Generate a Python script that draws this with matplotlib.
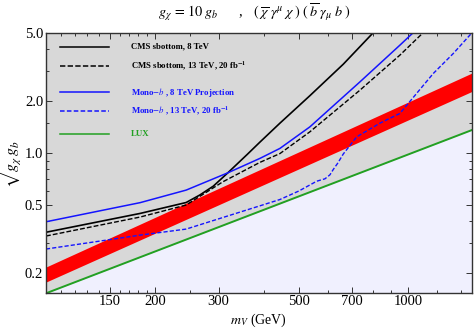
import matplotlib
matplotlib.use("Agg")
import matplotlib.pyplot as plt
from matplotlib.ticker import FixedLocator, NullFormatter, FixedFormatter

plt.rcParams["font.family"] = ["Liberation Serif", "DejaVu Serif"]
plt.rcParams["mathtext.fontset"] = "stix"

# --- donnees ---
cms8_m = [100, 182, 244, 266, 290, 318, 360, 390, 443, 536, 663, 802]
cms8_g = [0.345, 0.444, 0.514, 0.568, 0.64, 0.765, 0.98, 1.154, 1.488, 2.15, 3.28, 5.0]

cms13_m = [100, 182, 244, 308, 390, 443, 536, 737, 950, 1102]
cms13_g = [0.328, 0.423, 0.497, 0.678, 0.88, 0.99, 1.325, 2.315, 3.70, 5.0]

monob8_m = [100, 182, 244, 318, 390, 443, 536, 737, 950, 1034]
monob8_g = [0.397, 0.513, 0.607, 0.765, 0.928, 1.061, 1.416, 2.587, 4.228, 5.0]

monob13_m = [100, 182, 244, 330, 443, 500, 560, 590, 609, 622, 640, 663, 722, 837, 950, 1175, 1334, 1500]
monob13_g = [0.2755, 0.332, 0.360, 0.44, 0.535, 0.60, 0.684, 0.706, 0.745, 0.80, 0.871, 0.985, 1.239,
             1.488, 1.694, 2.894, 3.78, 4.97]

lux_m = [100, 1500]
lux_g = [0.1523, 1.355]

band_m = [100, 1500]
band_lo = [0.177, 2.272]
band_hi = [0.2165, 2.907]

xmin, xmax = 100, 1500
ymin, ymax = 0.1535, 5.0

BLUE = "#1414ff"
GREEN = "#22a022"

fig = plt.figure(figsize=(4.74, 3.28), dpi=100)
ax = fig.add_axes([0.097, 0.1076, 0.898, 0.7927])
ax.set_facecolor("#f0f0fe")
ax.set_xscale("log")
ax.set_yscale("log")

ax.fill_between(lux_m, lux_g, ymax, color="#d8d8d8", lw=0, zorder=1)
ax.fill_between(band_m, band_lo, band_hi, color="#ff0000", lw=0, zorder=3)

ax.plot(cms8_m, cms8_g, color="black", lw=1.2, zorder=4)
ax.plot(cms13_m, cms13_g, color="black", lw=1.0, ls=(0, (3.5, 1.5)), zorder=4)
ax.plot(monob8_m, monob8_g, color=BLUE, lw=1.1, zorder=4)
ax.plot(monob13_m, monob13_g, color=BLUE, lw=1.0, ls=(0, (3, 1.5)), zorder=4)
ax.plot(lux_m, lux_g, color=GREEN, lw=1.4, zorder=4)

ax.set_xlim(xmin, xmax)
ax.set_ylim(ymin, ymax)

xt = [150, 200, 300, 500, 700, 1000]
ax.xaxis.set_major_locator(FixedLocator(xt))
ax.xaxis.set_major_formatter(FixedFormatter([str(v) for v in xt]))
ax.xaxis.set_minor_locator(FixedLocator([110, 120, 130, 140, 160, 170, 180, 190,
                                         250, 400, 600, 800, 900, 1200, 1400]))
ax.xaxis.set_minor_formatter(NullFormatter())

yt = [0.2, 0.5, 1.0, 2.0, 5.0]
ax.yaxis.set_major_locator(FixedLocator(yt))
ax.yaxis.set_major_formatter(FixedFormatter(["0.2", "0.5", "1.0", "2.0", "5.0"]))
ax.yaxis.set_minor_locator(FixedLocator([0.3, 0.4, 0.6, 0.7, 0.8, 0.9, 1.5, 3.0, 4.0]))
ax.yaxis.set_minor_formatter(NullFormatter())

ax.tick_params(which="both", direction="in", top=True, right=True, labelsize=10.5,
               width=0.7, color="#333333", pad=2)
ax.tick_params(which="major", length=4)
ax.tick_params(which="minor", length=2)
for s in ax.spines.values():
    s.set_linewidth(1.0)
    s.set_color("#333333")
    s.set_zorder(6)

ax.set_xlabel(r"$m_V$ (GeV)", fontsize=10, labelpad=2)
ax.set_ylabel(r"$\sqrt{g_\chi\, g_b}$", fontsize=11.5)
ax.yaxis.set_label_coords(-0.054, 0.5)
fig.text(0.537, 0.963,
         r"$g_\chi\,=\,10\;g_b$      ,   $(\;\overline{\chi}\;\gamma^\mu\;\chi\;)\;(\;\overline{b}\;\gamma_\mu\;b\;)$",
         ha="center", va="center", fontsize=10.3)

# legende manuelle
entries = [
    ("CMS sbottom, 8 TeV", "black", "-", 0.946, "black"),
    (r"CMS sbottom, 13 TeV, 20 fb$^{\mathbf{-1}}$", "black", (0, (3.5, 1.5)), 0.873, "black"),
    (r"Mono$-b$ , 8 TeV Projection", BLUE, "-", 0.771, BLUE),
    (r"Mono$-b$ , 13 TeV, 20 fb$^{\mathbf{-1}}$", BLUE, (0, (3, 1.5)), 0.699, BLUE),
    ("LUX", GREEN, "-", 0.610, GREEN),
]
for label, col, ls, yy, tcol in entries:
    ax.plot([0.033, 0.148], [yy, yy], transform=ax.transAxes, color=col, ls=ls,
            lw=1.1, zorder=5)
    ax.text(0.199, yy, label, transform=ax.transAxes, color=tcol, fontsize=6.3,
            fontweight="bold", va="center", ha="left", zorder=5)

fig.savefig("out.png", dpi=100)
